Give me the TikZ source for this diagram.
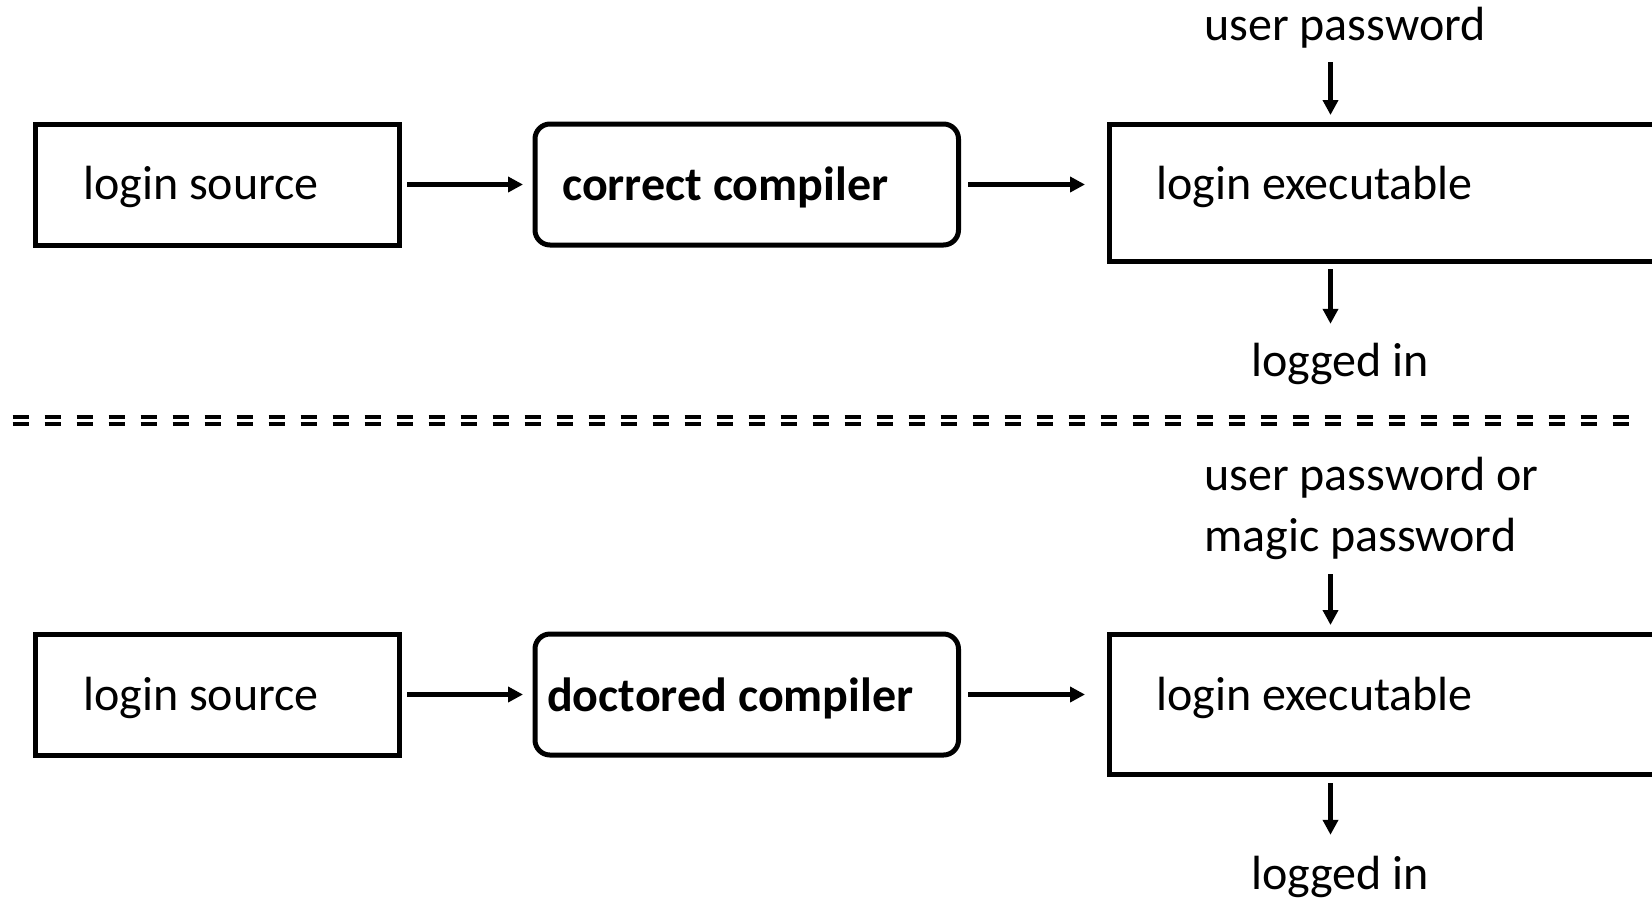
\documentclass[tikz,border=0pt]{standalone}
\usepackage{fontspec}
\setmainfont{Carlito}
\usetikzlibrary{arrows.meta}
\begin{document}
\begin{tikzpicture}[x=1pt,y=-1pt,
  box/.style={draw, line width=5pt, inner sep=0pt},
  rbox/.style={box, rounded corners=15pt},
  lbl/.style={inner sep=0pt, anchor=base west, text height=33pt, text depth=0pt,
    font=\fontsize{48}{57}\selectfont},
  blbl/.style={lbl, font=\fontsize{48}{57}\selectfont\bfseries},
  arr/.style={line width=4.5pt, -{Triangle[length=15pt,width=15pt]}},
  sepline/.style={line width=3.5pt, dash pattern=on 16pt off 16pt}
]
\path[use as bounding box, clip] (0,0) rectangle (1652,898);
\coordinate (ax) at (1330.5,0);

% top row
\node[box, minimum width=363.5pt, minimum height=121pt] (src1) at (217.25,184.5) {};
\node[rbox, minimum width=423.5pt, minimum height=121pt] (comp1) at (746.75,184.5) {};
\node[box, minimum width=651pt, minimum height=137.5pt] (exe1) at (1434.5,192.75) {};
\node[lbl] (tsrc1) at (83,199) {login source};
\node[blbl] (tcomp1) at (562,200) {correct compiler};
\node[lbl] (texe1) at (1156,199) {login executable};
\node[lbl] (pw1) at (1204,40) {user password};
\node[lbl] (log1) at (1251,376) {logged in};

\draw[arr, shorten <=22pt, shorten >=6.5pt] (pw1.south -| ax) -- (exe1.north -| ax);
\draw[arr, shorten <=5.5pt, shorten >=9.5pt] (src1.east) -- (comp1.west);
\draw[arr, shorten <=7pt, shorten >=21.5pt] (comp1.east) -- (exe1.west |- comp1.east);
\draw[arr, shorten <=5pt, shorten >=19pt] (exe1.south -| ax) -- (log1.north -| ax);

% separator
\draw[sepline] (12.7,417) -- (1630,417);
\draw[sepline] (12.7,424) -- (1630,424);

% bottom row
\node[box, minimum width=363.5pt, minimum height=121pt] (src2) at (217.25,694.5) {};
\node[rbox, minimum width=423.5pt, minimum height=121pt] (comp2) at (746.75,694.5) {};
\node[box, minimum width=651pt, minimum height=140.5pt] (exe2) at (1434.5,704.25) {};
\node[lbl] (tsrc2) at (83,710) {login source};
\node[blbl] (tcomp2) at (547,711) {doctored compiler};
\node[lbl] (texe2) at (1156,710) {login executable};
\node[lbl] (pw2a) at (1204,490) {user password or};
\node[lbl] (pw2) at (1204,551) {magic password};
\node[lbl] (log2) at (1251,889) {logged in};

\draw[arr, shorten <=23pt, shorten >=6.5pt] (pw2.south -| ax) -- (exe2.north -| ax);
\draw[arr, shorten <=5.5pt, shorten >=9.5pt] (src2.east) -- (comp2.west);
\draw[arr, shorten <=7pt, shorten >=21.5pt] (comp2.east) -- (exe2.west |- comp2.east);
\draw[arr, shorten <=6pt, shorten >=21pt] (exe2.south -| ax) -- (log2.north -| ax);
\end{tikzpicture}
\end{document}
